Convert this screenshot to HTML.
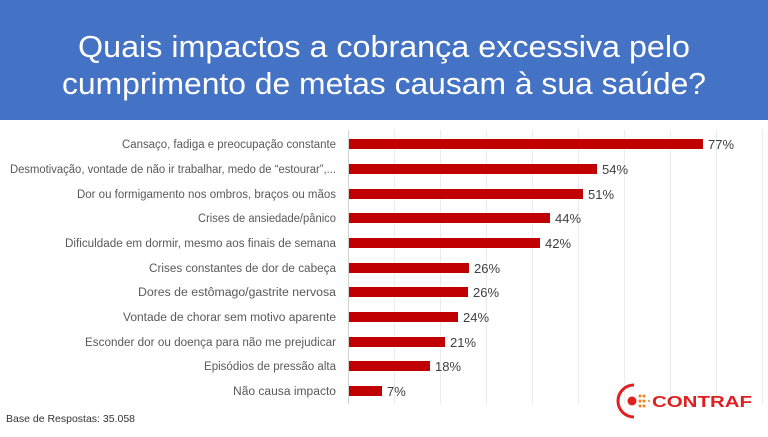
<!DOCTYPE html>
<html><head><meta charset="utf-8"><style>
body{margin:0;width:768px;height:432px;overflow:hidden;background:#fff;font-family:"Liberation Sans",sans-serif}
</style></head><body>
<svg width="768" height="432" xmlns="http://www.w3.org/2000/svg" font-family="Liberation Sans, sans-serif">
<rect x="0" y="0" width="768" height="120" fill="#4472C4"/>
<text x="384" y="57" fill="#fff" font-size="31" text-anchor="middle" textLength="612" lengthAdjust="spacingAndGlyphs">Quais impactos a cobrança excessiva pelo</text>
<text x="384" y="94" fill="#fff" font-size="31" text-anchor="middle" textLength="644" lengthAdjust="spacingAndGlyphs">cumprimento de metas causam à sua saúde?</text>
<g stroke="#ececec" stroke-width="1">
<line x1="394.5" y1="130" x2="394.5" y2="404"/><line x1="440.5" y1="130" x2="440.5" y2="404"/>
<line x1="486.5" y1="130" x2="486.5" y2="404"/><line x1="532.5" y1="130" x2="532.5" y2="404"/>
<line x1="578.5" y1="130" x2="578.5" y2="404"/><line x1="624.5" y1="130" x2="624.5" y2="404"/>
<line x1="670.5" y1="130" x2="670.5" y2="404"/><line x1="716.5" y1="130" x2="716.5" y2="404"/>
<line x1="762.5" y1="130" x2="762.5" y2="404"/>
</g>
<line x1="348.5" y1="130" x2="348.5" y2="404" stroke="#d0d0d0"/>
<g font-size="11.5" fill="#595959" text-anchor="end" lengthAdjust="spacingAndGlyphs">
<text x="336" y="148" textLength="214" lengthAdjust="spacingAndGlyphs">Cansaço, fadiga e preocupação constante</text>
<text x="336" y="173" textLength="326" lengthAdjust="spacingAndGlyphs">Desmotivação, vontade de não ir trabalhar, medo de “estourar”,...</text>
<text x="336" y="198" textLength="259" lengthAdjust="spacingAndGlyphs">Dor ou formigamento nos ombros, braços ou mãos</text>
<text x="336" y="222" textLength="138" lengthAdjust="spacingAndGlyphs">Crises de ansiedade/pânico</text>
<text x="336" y="247" textLength="271" lengthAdjust="spacingAndGlyphs">Dificuldade em dormir, mesmo aos finais de semana</text>
<text x="336" y="272" textLength="187" lengthAdjust="spacingAndGlyphs">Crises constantes de dor de cabeça</text>
<text x="336" y="296" textLength="198" lengthAdjust="spacingAndGlyphs">Dores de estômago/gastrite nervosa</text>
<text x="336" y="321" textLength="213" lengthAdjust="spacingAndGlyphs">Vontade de chorar sem motivo aparente</text>
<text x="336" y="346" textLength="251" lengthAdjust="spacingAndGlyphs">Esconder dor ou doença para não me prejudicar</text>
<text x="336" y="370" textLength="132" lengthAdjust="spacingAndGlyphs">Episódios de pressão alta</text>
<text x="336" y="395" textLength="103" lengthAdjust="spacingAndGlyphs">Não causa impacto</text>
</g>
<g fill="#C00000">
<rect x="349" y="139" width="354" height="10"/>
<rect x="349" y="164" width="248" height="10"/>
<rect x="349" y="189" width="234" height="10"/>
<rect x="349" y="213" width="201" height="10"/>
<rect x="349" y="238" width="191" height="10"/>
<rect x="349" y="263" width="120" height="10"/>
<rect x="349" y="287" width="119" height="10"/>
<rect x="349" y="312" width="109" height="10"/>
<rect x="349" y="337" width="96" height="10"/>
<rect x="349" y="361" width="81" height="10"/>
<rect x="349" y="386" width="33" height="10"/>
</g>
<g font-size="13" fill="#404040">
<text x="708" y="149">77%</text>
<text x="602" y="174">54%</text>
<text x="588" y="199">51%</text>
<text x="555" y="223">44%</text>
<text x="545" y="248">42%</text>
<text x="474" y="273">26%</text>
<text x="473" y="297">26%</text>
<text x="463" y="322">24%</text>
<text x="450" y="347">21%</text>
<text x="435" y="371">18%</text>
<text x="387" y="396">7%</text>
</g>
<text x="6" y="422" font-size="10.5" fill="#333">Base de Respostas: 35.058</text>
<path d="M634 385 A16 16 0 1 0 634 417" fill="none" stroke="#E02020" stroke-width="3"/>
<circle cx="632" cy="401" r="4.5" fill="#E02020"/>
<g fill="#F08020"><circle cx="640" cy="396" r="1.5"/><circle cx="644" cy="396" r="1.5"/><circle cx="640" cy="401" r="1.5"/><circle cx="644" cy="401" r="1.5"/><circle cx="640" cy="406" r="1.5"/><circle cx="644" cy="406" r="1.5"/><circle cx="649" cy="401" r="1"/></g>
<text x="652" y="407" font-size="16" font-weight="bold" fill="#E02020" textLength="100" lengthAdjust="spacingAndGlyphs">CONTRAF</text>
</svg>
</body></html>
